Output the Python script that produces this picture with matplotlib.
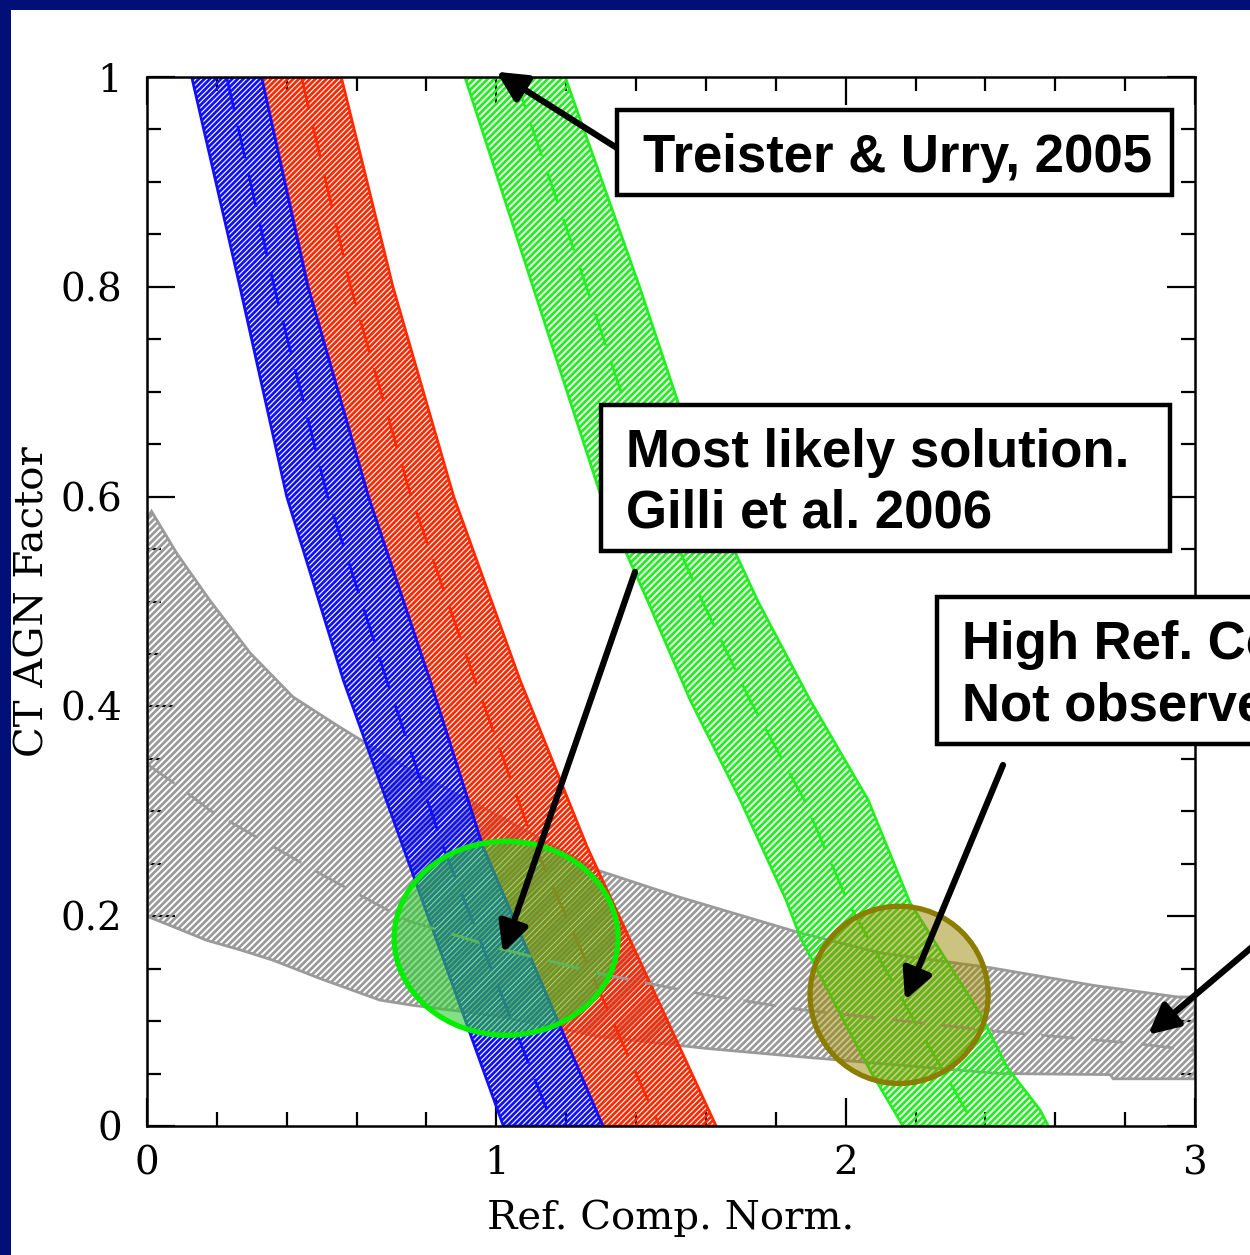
import matplotlib
matplotlib.use('Agg')
import matplotlib.pyplot as plt
import numpy as np
from matplotlib.patches import Ellipse, Rectangle

# Band edges (x at given y) for the three model bands
blue_y_left = [1.0, 0.80, 0.60, 0.425, 0.266, 0.0]
blue_x_left = [0.128, 0.266, 0.40, 0.562, 0.733, 1.02]
blue_y_right = [1.0, 0.80, 0.60, 0.425, 0.266, 0.0]
blue_x_right = [0.328, 0.461, 0.634, 0.81, 0.962, 1.305]
blue_y_mid = [1.0, 0.80, 0.60, 0.425, 0.266, 0.0]
blue_x_mid = [0.228, 0.364, 0.517, 0.686, 0.848, 1.163]

red_y_right = [1.0, 0.80, 0.60, 0.425, 0.266, 0.0]
red_x_right = [0.556, 0.704, 0.878, 1.068, 1.26, 1.629]
red_y_mid = [1.0, 0.80, 0.60, 0.425, 0.266, 0.0]
red_x_mid = [0.442, 0.583, 0.756, 0.939, 1.111, 1.467]

green_y_left = [1.0, 0.80, 0.60, 0.50, 0.406, 0.311, 0.215, 0.18, 0.101, 0.053, 0.0]
green_x_left = [0.910, 1.105, 1.30, 1.434, 1.555, 1.698, 1.83, 1.87, 1.993, 2.07, 2.164]
green_y_right = [1.0, 0.80, 0.60, 0.50, 0.406, 0.311, 0.213, 0.104, 0.0565, 0.015, 0.0]
green_x_right = [1.197, 1.41, 1.61, 1.749, 1.898, 2.064, 2.184, 2.39, 2.461, 2.557, 2.58]
green_y_mid = [1.0, 0.80, 0.60, 0.50, 0.406, 0.311, 0.213, 0.104, 0.0]
green_x_mid = [1.053, 1.258, 1.455, 1.59, 1.726, 1.881, 2.007, 2.19, 2.37]

# Grey band (y at given x)
grey_x_up = [0.0, 0.013, 0.085, 0.18, 0.295, 0.418, 0.553, 0.75, 1.0, 1.288, 1.526,
             1.87, 2.1, 2.413, 2.71, 2.95, 3.0]
grey_y_up = [0.58, 0.586, 0.546, 0.501, 0.451, 0.409, 0.38, 0.34, 0.297, 0.244, 0.218,
             0.184, 0.165, 0.151, 0.134, 0.123, 0.123]
grey_x_mid = [0.0, 0.094, 0.18, 0.295, 0.41, 0.515, 0.638, 0.744, 1.0, 1.3, 1.6,
              1.87, 2.44, 2.82, 3.0]
grey_y_mid = [0.345, 0.323, 0.301, 0.279, 0.257, 0.237, 0.215, 0.196, 0.17, 0.145, 0.125,
              0.111, 0.090, 0.079, 0.072]
grey_x_low = [0.0, 0.075, 0.171, 0.266, 0.361, 0.5, 0.667, 0.762, 1.0, 1.3, 1.6,
              1.87, 2.44, 2.757, 2.766, 3.0]
grey_y_low = [0.2, 0.19, 0.177, 0.168, 0.158, 0.14, 0.12, 0.115, 0.105, 0.085, 0.074,
              0.066, 0.050, 0.049, 0.045, 0.045]

W, H = 1250, 1255


def fx(px):
    return px / W


def fy(py):
    return 1 - py / H


plt.rcParams['hatch.linewidth'] = 2.0
plt.rcParams['font.family'] = 'DejaVu Serif'

fig = plt.figure(figsize=(12.5, 12.55), dpi=100)
fig.patch.set_facecolor('white')
ax = fig.add_axes([fx(147), fy(1126), fx(1195) - fx(147), fy(77) - fy(1126)])

dash = (0, (12, 6))


def band(xs, ys, color, hatch, lw=2.0):
    ax.fill(xs, ys, facecolor='none', edgecolor=color, hatch=hatch, linewidth=lw, zorder=2)


# grey band
band(grey_x_up + grey_x_low[::-1], grey_y_up + grey_y_low[::-1], '#9a9a9a', '/////')
ax.plot(grey_x_mid, grey_y_mid, color='#9a9a9a', lw=2, ls=dash, zorder=3)

# red band (left edge shared with blue)
band(blue_x_right + red_x_right[::-1], blue_y_right + red_y_right[::-1], '#ff2a00', '//////')
ax.plot(red_x_mid, red_y_mid, color='#ff2a00', lw=2, ls=dash, zorder=3)

# blue band
band(blue_x_left + blue_x_right[::-1], blue_y_left + blue_y_right[::-1], '#1010ff', '//////')
ax.plot(blue_x_mid, blue_y_mid, color='#1010ff', lw=2, ls=dash, zorder=3)

# green band
band(green_x_left + green_x_right[::-1], green_y_left + green_y_right[::-1], '#22ee22', '/////')
ax.plot(green_x_mid, green_y_mid, color='#22ee22', lw=2, ls=dash, zorder=3)

# highlighted regions
ax.add_patch(Ellipse((1.028, 0.179), 0.641, 0.185, facecolor='#33cc33', alpha=0.6,
                     edgecolor='none', zorder=4))
ax.add_patch(Ellipse((1.028, 0.179), 0.641, 0.185, facecolor='none',
                     edgecolor='#00ee00', lw=3.8, zorder=4))
ax.add_patch(Ellipse((2.153, 0.125), 0.51, 0.169, facecolor='#998800', alpha=0.5,
                     edgecolor='none', zorder=4))
ax.add_patch(Ellipse((2.153, 0.125), 0.51, 0.169, facecolor='none',
                     edgecolor='#8b7d00', lw=3.8, zorder=4))

ax.set_xlim(0, 3)
ax.set_ylim(0, 1)
ax.set_xticks([0, 1, 2, 3])
ax.set_xticks(np.arange(0, 3.01, 0.2), minor=True)
ax.set_yticks([0, 0.2, 0.4, 0.6, 0.8, 1.0])
ax.set_yticklabels(['0', '0.2', '0.4', '0.6', '0.8', '1'])
ax.set_yticks(np.arange(0, 1.001, 0.05), minor=True)
ax.tick_params(which='both', direction='in', top=True, right=True, width=1.6,
               labelsize=28, colors='black')
ax.tick_params(which='major', length=20)
ax.tick_params(axis='x', which='major', pad=14)
ax.tick_params(axis='y', which='major', pad=18)
ax.tick_params(which='minor', length=10)
for s in ax.spines.values():
    s.set_linewidth(1.8)
    s.set_zorder(6)
ax.set_xlabel('Ref. Comp. Norm.', fontsize=29, labelpad=12)
ax.set_ylabel('CT AGN Factor', fontsize=29, labelpad=6)

# arrows
arrow = dict(arrowstyle='-|>', color='black', lw=4.5, mutation_scale=45,
             shrinkA=0, shrinkB=0)
for tip, tail in [((1.0, 1.005), (617, 148)),
                  ((1.019, 0.165), (635, 572)),
                  ((2.170, 0.120), (1003, 765)),
                  ((2.866, 0.087), (1290, 915))]:
    ax.annotate('', xy=tip, xycoords='data', xytext=(fx(tail[0]), fy(tail[1])),
                textcoords='figure fraction', arrowprops=arrow,
                annotation_clip=False, zorder=8)

# label boxes
boxes = [((617, 110, 1172, 195), 643, [(172, 'Treister & Urry, 2005')]),
         ((601, 405, 1170, 551), 626, [(467, 'Most likely solution.'),
                                       (528, 'Gilli et al. 2006')]),
         ((937, 597, 1330, 744), 962, [(659, 'High Ref. Comp.'),
                                       (720, 'Not observed')])]
for (x0, y0, x1, y1), tx, lines in boxes:
    fig.add_artist(Rectangle((fx(x0), fy(y1)), fx(x1) - fx(x0), fy(y0) - fy(y1),
                             transform=fig.transFigure, facecolor='white',
                             edgecolor='black', lw=3.2, zorder=10, clip_on=False))
    for base, txt in lines:
        fig.text(fx(tx), fy(base), txt, fontsize=38, fontweight='bold',
                 family='Liberation Sans', ha='left', va='baseline', zorder=11)

# dark frame along the left and top edges
fig.add_artist(Rectangle((0, 0), fx(11), 1, transform=fig.transFigure,
                         facecolor='#030f78', edgecolor='none', zorder=20))
fig.add_artist(Rectangle((0, fy(10)), 1, 1 - fy(10), transform=fig.transFigure,
                         facecolor='#030f78', edgecolor='none', zorder=20))

fig.savefig('out.png', dpi=100)
